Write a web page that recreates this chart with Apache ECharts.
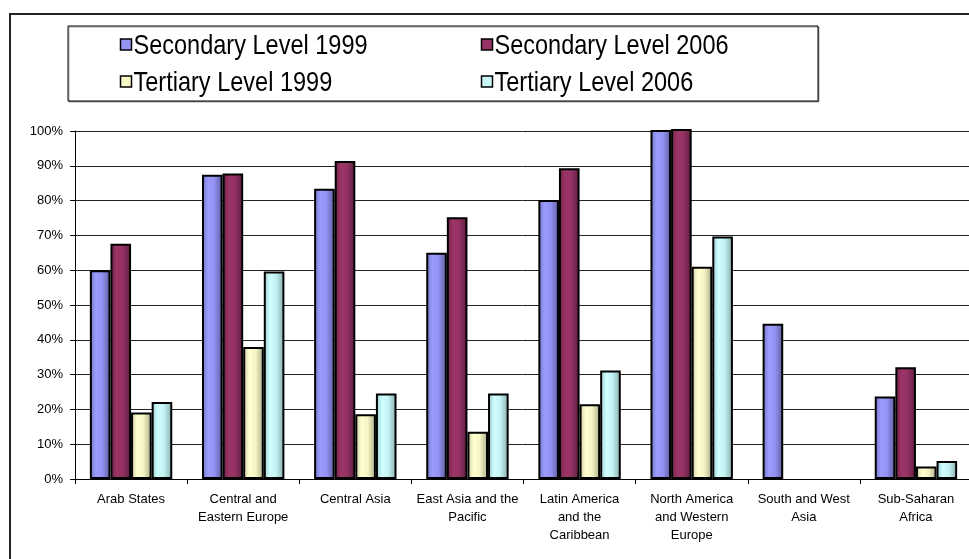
<!DOCTYPE html>
<html>
<head>
<meta charset="utf-8">
<script src="https://cdn.jsdelivr.net/npm/echarts@6/dist/echarts.min.js"></script>
<style>
  html, body { margin: 0; padding: 0; background: #fff; }
  #chart { width: 969px; height: 559px; }
</style>
</head>
<body>
<div id="chart"></div>
<script>
// Regions on the category axis
const regions = [
  'Arab States',
  'Central and\nEastern Europe',
  'Central Asia',
  'East Asia and the\nPacific',
  'Latin America\nand the\nCaribbean',
  'North America\nand Western\nEurope',
  'South and West\nAsia',
  'Sub-Saharan\nAfrica'
];

// Enrolment ratios (%) per region
const secondary1999 = [60.0, 87.4, 83.4, 65.0, 80.2, 100.3, 44.6, 23.7];
const secondary2006 = [67.6, 87.8, 91.4, 75.2, 89.3, 100.6, null, 32.1];
const tertiary1999  = [19.1, 37.9, 18.6, 13.6, 21.5, 61.0, null, 3.6];
const tertiary2006  = [22.1, 59.6, 24.6, 24.6, 31.2, 69.7, null, 5.2];

const seriesNames = ['Secondary Level 1999', 'Secondary Level 2006', 'Tertiary Level 1999', 'Tertiary Level 2006'];
const yTicks = { min: 0, max: 100, step: 10 };

// Horizontal shading so each bar looks rounded
function shade(edgeL, light, mid, edgeR) {
  return new echarts.graphic.LinearGradient(0, 0, 1, 0, [
    { offset: 0, color: edgeL },
    { offset: 0.3, color: light },
    { offset: 0.6, color: mid },
    { offset: 1, color: edgeR }
  ]);
}
const fills = [
  shade('#7272c4', '#9c9cff', '#9292f2', '#5c5c9c'),
  shade('#6c2347', '#9c3468', '#943263', '#5a1d3d'),
  shade('#cacaa4', '#ffffd0', '#f6f6c4', '#a9a988'),
  shade('#9ccaca', '#d0ffff', '#c2f2f2', '#88aaaa')
];
const keyColors = ['#9494f4', '#993366', '#f8f8c6', '#c6f6f6'];
const values = [secondary1999, secondary2006, tertiary1999, tertiary2006];

const FONT = 'Liberation Sans, Arial, sans-serif';

// Legend: two columns, two rows, tall condensed lettering inside a framed box
const legendBox = { x: 68, y: 26, width: 750, height: 75 };
const legendCols = [120, 481];
const legendRows = [45, 82];
const legendItems = [];
seriesNames.forEach((name, i) => {
  const cx = legendCols[i % 2];
  const cy = legendRows[Math.floor(i / 2)];
  legendItems.push({
    type: 'rect', z: 5,
    shape: { x: cx + 0.5, y: cy - 6, width: 11, height: 11 },
    style: { fill: keyColors[i], stroke: '#000', lineWidth: 1.5 }
  });
  legendItems.push({
    type: 'text', z: 5,
    x: cx + 13.5, y: cy + 1,
    scaleX: 0.84,
    style: {
      text: name, fill: '#000',
      fontFamily: FONT, fontSize: 28,
      verticalAlign: 'middle', align: 'left'
    }
  });
});

const chart = echarts.init(document.getElementById('chart'), null, { renderer: 'canvas' });

chart.setOption({
  animation: false,
  backgroundColor: '#fff',
  graphic: [
    // outer frame of the chart area
    { type: 'rect', shape: { x: 10, y: 14, width: 1000, height: 600 },
      style: { fill: 'none', stroke: '#222', lineWidth: 2 }, z: 0 },
    // legend frame
    { type: 'rect', shape: legendBox,
      style: { fill: '#fff', stroke: '#000', lineWidth: 1, shadowColor: 'rgba(0,0,0,0.35)', shadowOffsetX: 1, shadowOffsetY: 1 }, z: 1 }
  ].concat(legendItems),
  grid: {
    left: 75, top: 131, width: 897, height: 348,
    outerBoundsMode: 'none', containLabel: false
  },
  xAxis: {
    type: 'category',
    data: regions,
    axisLine: { lineStyle: { color: '#000', width: 1 } },
    axisTick: { show: true, length: 5, lineStyle: { color: '#000' } },
    axisLabel: {
      interval: 0, margin: 11, lineHeight: 18, align: 'center',
      fontFamily: FONT, fontSize: 13, color: '#000'
    }
  },
  yAxis: {
    type: 'value',
    min: yTicks.min, max: yTicks.max, interval: yTicks.step,
    axisLine: { show: true, lineStyle: { color: '#000', width: 1 } },
    axisTick: { show: true, length: 5, lineStyle: { color: '#000' } },
    splitLine: { lineStyle: { color: '#222', width: 1 } },
    axisLabel: {
      formatter: '{value}%', margin: 12,
      fontFamily: FONT, fontSize: 13, color: '#000'
    }
  },
  series: seriesNames.map((name, i) => ({
    name: name,
    type: 'bar',
    data: values[i],
    clip: false,
    barGap: '0%',
    barCategoryGap: '26.5%',
    itemStyle: { color: fills[i], borderColor: '#000', borderWidth: 2 }
  }))
});
</script>
</body>
</html>
